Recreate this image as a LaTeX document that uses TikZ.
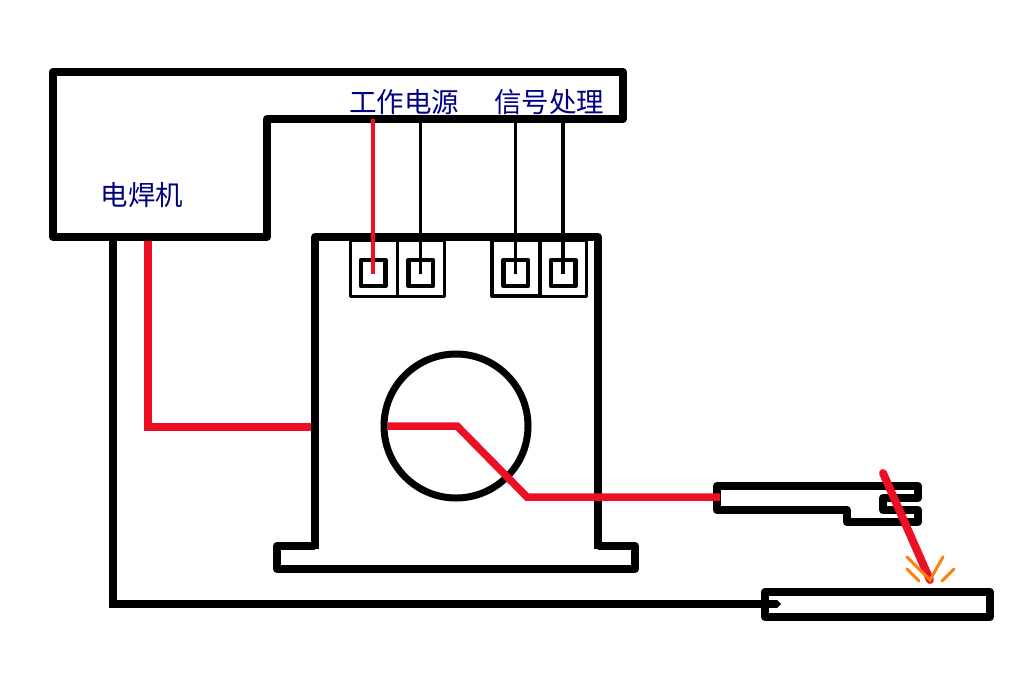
\documentclass[tikz,border=0pt]{standalone}
\usepackage{fontspec}
\newfontfamily\cjk{Noto Sans CJK SC}
\definecolor{wirered}{RGB}{237,16,36}
\definecolor{spark}{RGB}{255,127,15}
\definecolor{labelblue}{RGB}{0,0,128}
\tikzset{
  thick line/.style={draw=black,line width=8pt,line join=round},
  red wire/.style={draw=wirered,line width=7.5pt,line join=miter},
  terminal/.style={draw=black,line width=3pt,line join=round},
  socket/.style={draw=black,line width=4.5pt,line join=round},
  spark line/.style={draw=spark,line width=3pt,line cap=round},
  lbl/.style={text=labelblue,font=\cjk\fontsize{27.5}{30}\selectfont,inner sep=0pt,anchor=center}
}
\begin{document}
\begin{tikzpicture}[x=1pt,y=-1pt]
\useasboundingbox[fill=white] (0,0) rectangle (1030,683);
% welder outline
\draw[thick line] (53,72) -- (623,72) -- (623,119) -- (267,119) -- (267,237) -- (53,237) -- cycle;
% sensor body
\draw[thick line] (315,549) -- (315,237) -- (598,237) -- (598,549);
\draw[thick line] (315,546) -- (277,546) -- (277,569) -- (635,569) -- (635,546) -- (598,546);
\draw[thick line,line width=7pt] (456,426) circle (72);
% terminals
\draw[terminal] (350,240) rectangle (397.5,296);
\draw[terminal] (397.5,240) rectangle (444,296);
\draw[terminal,line width=4pt] (492,240) rectangle (539.5,296);
\draw[terminal] (539.5,240) rectangle (586,296);
\draw[socket] (361,260) rectangle (385.5,286);
\draw[socket] (408.5,260) rectangle (433,286);
\draw[socket] (503.5,260) rectangle (528,286);
\draw[socket] (551,260) rectangle (575.5,286);
% signal wires
\coordinate (w1) at (373,119); \coordinate (t1) at (373,274);
\coordinate (w2) at (420.5,119); \coordinate (t2) at (420.5,274);
\coordinate (w3) at (515.5,119); \coordinate (t3) at (515.5,274);
\coordinate (w4) at (562.5,119); \coordinate (t4) at (562.5,274);
\draw[black,line width=3pt] (w2) -- (t2);
\draw[black,line width=3pt] (w3) -- (t3);
\draw[black,line width=4pt] (w4) -- (t4);
\draw[wirered,line width=4.5pt] (w1) -- (t1);
% clamp
\draw[thick line] (717,486) -- (918,486) -- (918,498) -- (883,498) -- (883,510) -- (918,510) -- (918,522) -- (847,522) -- (847,510) -- (717,510) -- cycle;
% workpiece and return lead
\draw[thick line] (765,592) rectangle (990,617);
\coordinate (weld) at (113,240);
\coordinate (wp) at (777,604);
\draw[black,line width=7.5pt,line join=miter] (weld) -- (113,604) -- (wp);
\fill[black] (777,600) -- (781,604) -- (777,608) -- cycle;
% red current path
\draw[red wire] (148,241) -- (148,427) -- (311,427);
\draw[red wire] (388,426) -- (457,426) -- (527,497) -- (720,497);
% electrode
\draw[wirered,line width=8pt,line cap=round] (883,473) -- (930,580);
% sparks
\draw[spark line] (907,557) -- (930,580) -- (943,557);
\draw[spark line] (907,569) -- (919,581);
\draw[spark line] (954,569) -- (942,581);
% labels
\node[lbl] (power) at (404,102) {工作电源};
\node[lbl] (signal) at (549,102) {信号处理};
\node[lbl] (welder) at (142,195) {电焊机};
\end{tikzpicture}
\end{document}
